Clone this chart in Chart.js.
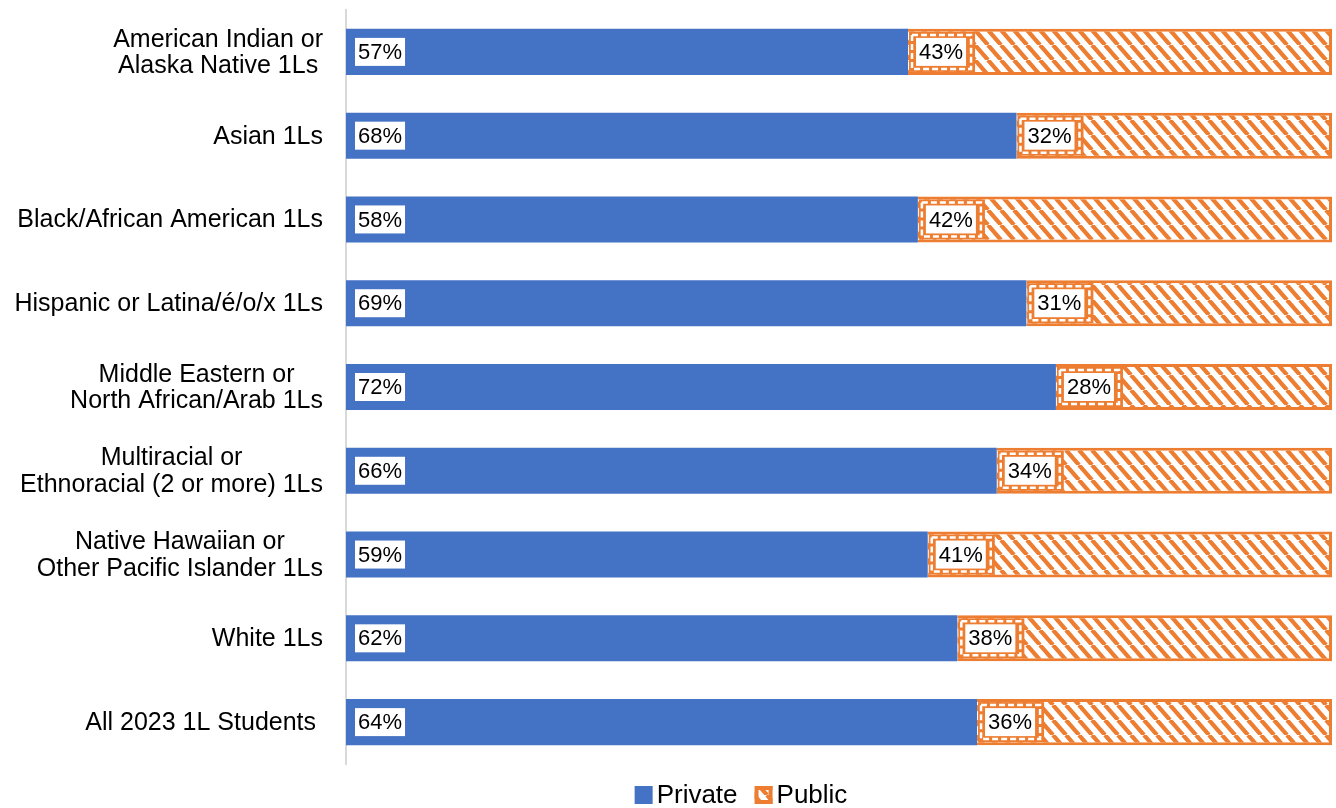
<!DOCTYPE html>
<html>
<head>
<meta charset="utf-8">
<script src="https://cdn.jsdelivr.net/npm/chart.js@4.4.1/dist/chart.umd.min.js"></script>
<style>
  html, body { margin: 0; padding: 0; background: #fff; }
  #wrap { width: 1336px; height: 808px; position: relative; }
</style>
</head>
<body>
<div id="wrap"><canvas id="shareChart"></canvas></div>
<script>
const categories = [
  ['American Indian or', 'Alaska Native 1Ls'],
  'Asian 1Ls',
  'Black/African American 1Ls',
  'Hispanic or Latina/é/o/x 1Ls',
  ['Middle Eastern or', 'North African/Arab 1Ls'],
  ['Multiracial or', 'Ethnoracial (2 or more) 1Ls'],
  ['Native Hawaiian or', 'Other Pacific Islander 1Ls'],
  'White 1Ls',
  'All 2023 1L Students '
];
const privateShare = [57, 68, 58, 69, 72, 66, 59, 62, 64];
const publicShare = [43, 32, 42, 31, 28, 34, 41, 38, 36];

const BLUE = '#4472C4';
const ORANGE = '#ED7D31';
const FONT = 'Liberation Sans, Arial, sans-serif';

// diagonal orange stripes on white for the public bars
function makeHatch() {
  const w = 13, h = 15;
  const c = document.createElement('canvas');
  c.width = w; c.height = h;
  const g = c.getContext('2d');
  g.fillStyle = '#fff';
  g.fillRect(0, 0, w, h);
  g.strokeStyle = ORANGE;
  g.lineWidth = 4.2;
  g.beginPath();
  for (let k = -1; k <= 1; k++) {
    g.moveTo(k * w, 0);
    g.lineTo(k * w + w, h);
  }
  g.stroke();
  return g.createPattern(c, 'repeat');
}
const hatch = makeHatch();

// category labels: multi-line ones centred on themselves, block right aligned
const categoryLabels = {
  id: 'categoryLabels',
  afterDraw(chart) {
    const { ctx, scales: { y } } = chart;
    ctx.save();
    ctx.font = '25px ' + FONT;
    ctx.fillStyle = '#000';
    ctx.textAlign = 'center';
    ctx.textBaseline = 'middle';
    const right = 323;
    const lineH = 26.5;
    categories.forEach((lab, i) => {
      const lines = Array.isArray(lab) ? lab : [lab];
      const widest = Math.max(...lines.map(l => ctx.measureText(l).width));
      const cy = y.getPixelForValue(i);
      const top = cy - (lines.length - 1) * lineH / 2;
      lines.forEach((l, j) => ctx.fillText(l, right - widest / 2, top + j * lineH + 1));
    });
    ctx.restore();
  }
};

// percentage tags in white boxes at the start of each bar segment
const valueTags = {
  id: 'valueTags',
  afterDatasetsDraw(chart) {
    const { ctx } = chart;
    ctx.save();
    ctx.font = '22px ' + FONT;
    ctx.textBaseline = 'middle';
    ctx.textAlign = 'left';
    chart.data.datasets.forEach((ds, di) => {
      const meta = chart.getDatasetMeta(di);
      meta.data.forEach((bar, i) => {
        const text = ds.data[i] + '%';
        const w = ctx.measureText(text).width;
        const base = Math.min(bar.base, bar.x);
        if (di === 1) {
          // orange pad with a white dashed ring round the tag
          ctx.fillStyle = ORANGE;
          ctx.fillRect(base + 1, bar.y - 20, w + 22, 40);
          ctx.strokeStyle = '#fff';
          ctx.lineWidth = 2.5;
          ctx.setLineDash([6, 3]);
          ctx.strokeRect(base + 4, bar.y - 17, w + 15, 34);
          ctx.setLineDash([]);
        }
        const x0 = base + (di === 0 ? 9 : 8);
        ctx.fillStyle = '#fff';
        ctx.fillRect(x0, bar.y - 14, w + 6, 28);
        ctx.fillStyle = '#000';
        ctx.fillText(text, x0 + 3, bar.y + 1);
      });
    });
    ctx.restore();
  }
};

// legend drawn under the plot
const bottomLegend = {
  id: 'bottomLegend',
  afterDraw(chart) {
    const { ctx } = chart;
    const items = [
      { text: 'Private', fill: BLUE, stroke: null },
      { text: 'Public', fill: hatch, stroke: ORANGE }
    ];
    ctx.save();
    ctx.font = '26px ' + FONT;
    ctx.textBaseline = 'middle';
    ctx.textAlign = 'left';
    const box = 18, gap = 4, between = 17;
    const widths = items.map(it => box + gap + ctx.measureText(it.text).width);
    const total = widths.reduce((a, b) => a + b, 0) + between;
    let x = 741 - total / 2;
    const cy = 795;
    items.forEach((it, i) => {
      ctx.fillStyle = it.fill;
      ctx.fillRect(x, cy - box / 2, box, box);
      if (it.stroke) {
        ctx.strokeStyle = it.stroke;
        ctx.lineWidth = 4;
        ctx.strokeRect(x + 2, cy - box / 2 + 2, box - 4, box - 4);
      }
      ctx.fillStyle = '#000';
      ctx.fillText(it.text, x + box + gap, cy + 1);
      x += widths[i] + between;
    });
    ctx.restore();
  }
};

new Chart(document.getElementById('shareChart'), {
  type: 'bar',
  data: {
    labels: categories,
    datasets: [
      {
        label: 'Private',
        data: privateShare,
        backgroundColor: BLUE,
        borderWidth: 0
      },
      {
        label: 'Public',
        data: publicShare,
        backgroundColor: hatch,
        borderColor: ORANGE,
        borderWidth: 3
      }
    ]
  },
  options: {
    indexAxis: 'y',
    responsive: true,
    maintainAspectRatio: false,
    animation: false,
    layout: { padding: { top: 10, right: 4, bottom: 44, left: 0 } },
    datasets: { bar: { barPercentage: 1, categoryPercentage: 0.55 } },
    scales: {
      x: {
        stacked: true,
        min: 0,
        max: 100,
        display: false
      },
      y: {
        stacked: true,
        grid: { display: false },
        border: { display: true, color: '#D9D9D9', width: 2 },
        ticks: { display: false },
        afterFit(scale) { scale.width = 346; }
      }
    },
    plugins: {
      legend: { display: false },
      tooltip: { enabled: false }
    }
  },
  plugins: [categoryLabels, valueTags, bottomLegend]
});
</script>
</body>
</html>
